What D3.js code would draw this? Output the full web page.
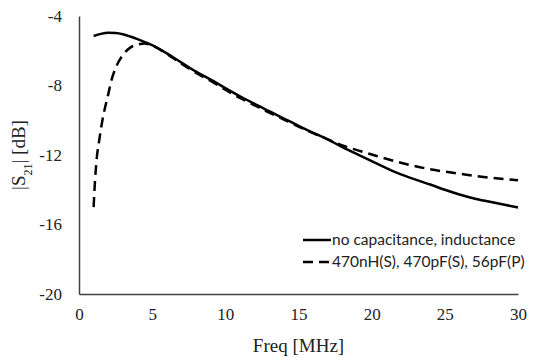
<!DOCTYPE html>
<html>
<head>
<meta charset="utf-8">
<script src="https://cdn.jsdelivr.net/npm/d3@7"></script>
<style>
  body { margin: 0; background: #fff; }
  svg { display: block; }
  .serif { font-family: "Liberation Serif", "Times New Roman", "DejaVu Serif", serif; }
  .sans { font-family: Lato, "Liberation Sans", sans-serif; }
</style>
</head>
<body>
<svg id="chart"></svg>
<script>
// data
let freqSolid = [1, 1.5, 2, 2.5, 3, 3.5, 4, 4.5, 5, 6, 7, 8, 9, 10, 11, 12, 13, 14, 15, 16, 17, 18, 19, 20, 21, 22, 23, 24, 25, 26, 27, 28, 29, 30]
let s21Solid = [-5.15, -5.03, -4.97, -4.98, -5.05, -5.18, -5.33, -5.5, -5.68, -6.15, -6.68, -7.2, -7.66, -8.15, -8.62, -9.06, -9.48, -9.9, -10.32, -10.72, -11.1, -11.55, -11.95, -12.35, -12.75, -13.12, -13.42, -13.7, -14.0, -14.27, -14.5, -14.68, -14.85, -15.02]

let freqDash = [1, 1.1, 1.2, 1.4, 1.6, 1.8, 2, 2.2, 2.5, 3, 3.5, 4, 4.5, 5, 6, 7, 8, 9, 10, 11, 12, 13, 14, 15, 16, 17, 18, 19, 20, 21, 22, 23, 24, 25, 26, 27, 28, 29, 30]
let s21Dash = [-15.0, -13.4, -12.3, -11.05, -10.0, -9.2, -8.5, -7.75, -7.0, -6.25, -5.82, -5.65, -5.58, -5.7, -6.18, -6.74, -7.27, -7.74, -8.24, -8.72, -9.14, -9.56, -9.96, -10.36, -10.74, -11.1, -11.45, -11.72, -11.97, -12.22, -12.45, -12.65, -12.82, -12.96, -13.08, -13.2, -13.3, -13.38, -13.45]

let xTicks = [0, 5, 10, 15, 20, 25, 30]
let yTicks = [-20, -16, -12, -8, -4]
let seriesNames = ["no capacitance, inductance", "470nH(S), 470pF(S), 56pF(P)"]

let svg = d3.select("#chart")
setup(svg, 537, 358)
makeChart(svg)

// size the svg
function setup(svg, w, h) {
    svg.attr("width", w).attr("height", h)
}

function makeChart(svg) {
    let x = d3.scaleLinear().domain([0, 30]).range([79, 518])
    let y = d3.scaleLinear().domain([-20, -4]).range([294, 16])

    // axes: only the lines, no tick marks
    let xAxis = d3.axisBottom(x).tickValues(xTicks).tickSize(0).tickPadding(14)
    let gx = svg.append("g")
        .attr("transform", "translate(0," + y(-20) + ")")
        .call(xAxis)
        .attr("font-family", null).attr("font-size", null)
    gx.select(".domain").attr("stroke", "#404040").attr("stroke-width", 1.5)
    gx.selectAll("text").attr("class", "serif").style("font-size", "17px").attr("fill", "#222")

    let yAxis = d3.axisLeft(y).tickValues(yTicks).tickSize(0).tickPadding(17)
    let gy = svg.append("g")
        .attr("transform", "translate(" + x(0) + ",0)")
        .call(yAxis)
        .attr("font-family", null).attr("font-size", null)
    gy.select(".domain").attr("stroke", "#404040").attr("stroke-width", 1.5)
    gy.selectAll("text").attr("class", "serif").style("font-size", "17px").attr("fill", "#222")
        .text(d => "-" + Math.abs(d))

    // axis titles
    svg.append("text")
        .attr("class", "serif")
        .attr("x", (x(0) + x(30)) / 2).attr("y", 352)
        .attr("text-anchor", "middle")
        .style("font-size", "19px").attr("fill", "#222")
        .text("Freq [MHz]")

    let yt = svg.append("text")
        .attr("class", "serif")
        .attr("transform", "translate(25," + y(-12) + ") rotate(-90)")
        .attr("text-anchor", "middle")
        .style("font-size", "19px").attr("fill", "#222")
    yt.append("tspan").text("|S")
    yt.append("tspan").attr("baseline-shift", "sub").style("font-size", "12px").text("21")
    yt.append("tspan").text("| [dB]")

    // curves
    let line = d3.line()
        .x(d => x(d[0]))
        .y(d => y(d[1]))
        .curve(d3.curveMonotoneX)

    svg.append("path")
        .datum(d3.zip(freqSolid, s21Solid))
        .attr("fill", "none")
        .attr("stroke", "#000")
        .attr("stroke-width", 2.5)
        .attr("d", line)

    svg.append("path")
        .datum(d3.zip(freqDash, s21Dash))
        .attr("fill", "none")
        .attr("stroke", "#000")
        .attr("stroke-width", 2.5)
        .attr("stroke-dasharray", "10,6")
        .attr("d", line)

    // legend
    let legY = [240, 262]
    let dashes = [null, "10,6"]
    for (let i = 0; i < seriesNames.length; i++) {
        svg.append("line")
            .attr("x1", 303).attr("x2", 331)
            .attr("y1", legY[i]).attr("y2", legY[i])
            .attr("stroke", "#000").attr("stroke-width", 2.5)
            .attr("stroke-dasharray", dashes[i])
        svg.append("text")
            .attr("class", "sans")
            .attr("x", 332).attr("y", legY[i])
            .attr("dy", "0.35em")
            .style("font-size", "15.5px").attr("fill", "#222")
            .text(seriesNames[i])
    }
}
</script>
</body>
</html>
